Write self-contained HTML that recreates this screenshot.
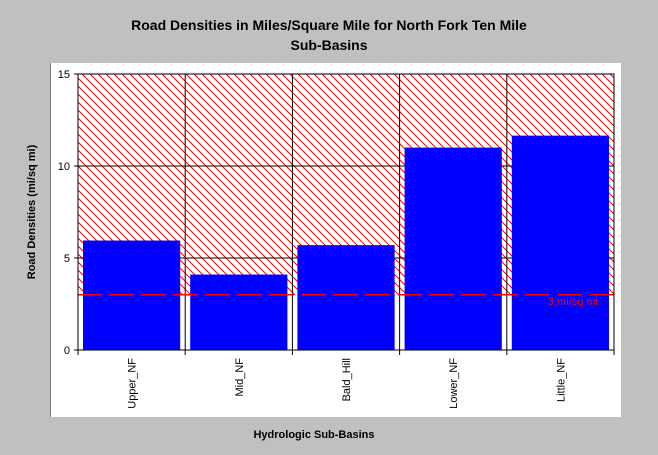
<!DOCTYPE html>
<html><head><meta charset="utf-8"><style>
body{margin:0;background:#c0c0c0;}
svg{display:block;font-family:"Liberation Sans",Arial,sans-serif;}
</style></head><body>
<svg id="chart" width="658" height="455">
<defs>
<pattern id="hatch" patternUnits="userSpaceOnUse" width="8" height="8">
<rect width="8" height="8" fill="#fff"/>
<path d="M-2,-2 L10,10 M-2,6 L2,10 M6,-2 L10,2" stroke="#ff0000" stroke-width="1"/>
</pattern>
</defs>
<text x="329" y="30" text-anchor="middle" font-size="14" font-weight="bold">Road Densities in Miles/Square Mile for North Fork Ten Mile</text>
<text x="329" y="50" text-anchor="middle" font-size="14" font-weight="bold">Sub-Basins</text>
<rect x="50" y="63" width="571" height="354" fill="#fff"/>
<line x1="50.5" y1="63" x2="50.5" y2="417" stroke="#808080" stroke-width="1"/>
<g id="plot"></g>
<text x="314" y="438" text-anchor="middle" font-size="11" font-weight="bold">Hydrologic Sub-Basins</text>
<text transform="translate(35,212) rotate(-90)" text-anchor="middle" font-size="11" font-weight="bold">Road Densities (mi/sq mi)</text>
</svg>
<script>
const categories=["Upper_NF","Mid_NF","Bald_Hill","Lower_NF","Little_NF"];
const densities=[5.95,4.1,5.7,11.0,11.65];
const yTicks=[0,5,10,15];
const threshold=3;
const thresholdLabel="3 mi/sq mi";
const L=78,R=614,T=74,B=350,YMAX=15;
const NS="http://www.w3.org/2000/svg";
const g=document.getElementById('plot');
const y=v=>B-(v/YMAX)*(B-T);
const bw=(R-L)/categories.length;
const x=i=>L+i*bw;
function mk(t,a){const e=document.createElementNS(NS,t);for(const k in a)e.setAttribute(k,a[k]);g.appendChild(e);return e;}
let e=mk('rect',{x:L,y:T,width:R-L,height:y(threshold)-T,fill:'url(#hatch)'});


yTicks.forEach(t=>{
 let l=mk('line',{x1:L-4,x2:R,y1:y(t),y2:y(t),stroke:'#000','stroke-width':1});
 
 
 let tx=mk('text',{x:L-8,y:y(t)+4,'text-anchor':'end','font-size':11});
 tx.textContent=t;
 
 
});
for(let i=0;i<=categories.length;i++){
 let l=mk('line',{x1:x(i),x2:x(i),y1:T,y2:B+5,stroke:'#000','stroke-width':1});
 
 
}
categories.forEach((c,i)=>{
 let b=mk('rect',{x:x(i)+5,y:y(densities[i]),width:bw-10,height:B-y(densities[i]),fill:'#0000ff'});
 
 
 let cx=x(i)+bw/2+4;
 let tx=mk('text',{x:0,y:0,'text-anchor':'end','font-size':11,transform:`translate(${cx},${B+8}) rotate(-90)`});
 tx.textContent=c;
 
 
});
let d=mk('line',{x1:L,x2:R,y1:y(threshold),y2:y(threshold),stroke:'#ff0000','stroke-width':1.5,'stroke-dasharray':'24 8'});


let tl=mk('text',{x:R-16,y:y(threshold)+10,'text-anchor':'end','font-size':11,fill:'#ff0000'});
tl.textContent=thresholdLabel;


let ax=mk('rect',{x:L,y:T,width:R-L,height:B-T,fill:'none',stroke:'#000','stroke-width':1});


</script>
</body></html>
